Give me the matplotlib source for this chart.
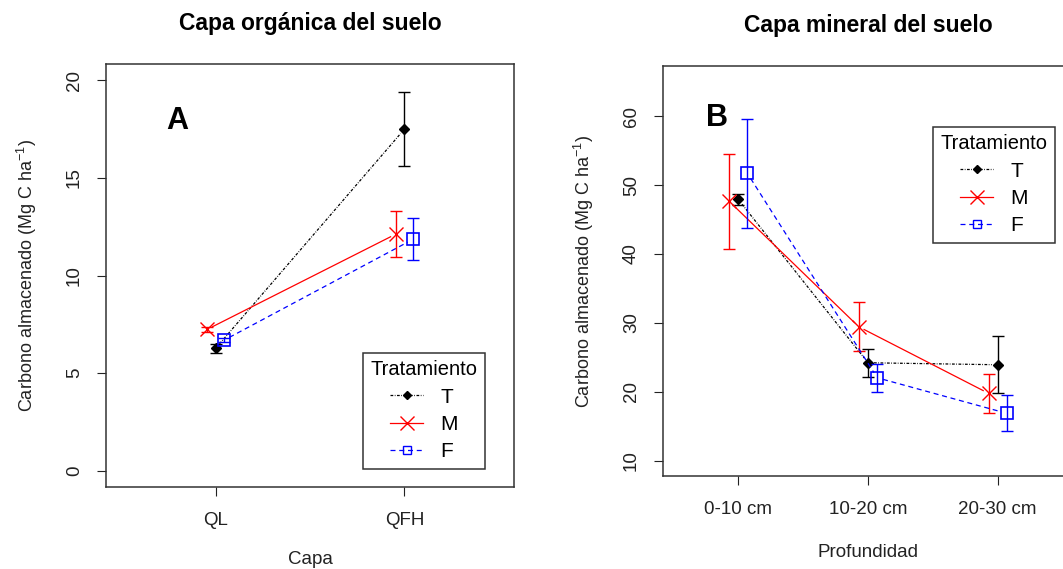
import numpy as np
import matplotlib
matplotlib.use("Agg")
import matplotlib.pyplot as plt

plt.rcParams['font.family'] = ['Liberation Sans', 'DejaVu Sans']
plt.rcParams['mathtext.fontset'] = 'custom'
plt.rcParams['mathtext.rm'] = 'Liberation Sans'
plt.rcParams['mathtext.it'] = 'Liberation Sans'

# treatments
trat = ['T', 'M', 'F']
colores = ['black', 'red', 'blue']
marcas = ['D', 'x', 's']

# panel A: capa organica
capas = ['QL', 'QFH']
A_T = [6.27, 17.49]
A_M = [7.24, 12.12]
A_F = [6.69, 11.85]
A_T_err = [0.23, 1.9]
A_M_err = [0.15, 1.17]
A_F_err = [0.1, 1.07]

# panel B: capa mineral
prof = ['0-10 cm', '10-20 cm', '20-30 cm']
B_T = [47.92, 24.22, 23.93]
B_M = [47.68, 29.44, 19.78]
B_F = [51.70, 22.04, 16.87]
B_T_err = [0.8, 2.0, 4.15]
B_M_err = [6.9, 3.55, 2.85]
B_F_err = [7.9, 2.0, 2.6]

W, H = 1063, 569
fig = plt.figure(figsize=(W/100, H/100), dpi=100)

def px_axes(l, t, r, b):
    return fig.add_axes([l/W, 1-b/H, (r-l)/W, (b-t)/H])

def linea_b(ax, x, y, **kw):
    # R type="b": segments with a gap round each point
    pts = ax.transData.transform(np.column_stack([x, y]))
    gap = 6.0
    inv = ax.transData.inverted()
    for i in range(len(pts)-1):
        p0, p1 = pts[i], pts[i+1]
        d = p1 - p0
        n = np.hypot(*d)
        if n < 2*gap:
            continue
        u = d/n
        q = inv.transform(np.array([p0 + u*gap, p1 - u*gap]))
        ax.plot(q[:, 0], q[:, 1], **kw)

def panel(ax, cats, series, errs, dodge, ylim, yticks, title, xlabel, xpad, letra, lpos, legpos):
    x = np.arange(1, len(cats)+1)
    ax.set_xlim(0.42, len(cats)+0.58)
    ax.set_ylim(*ylim)
    estilos = [(0, (2.2, 1.2, 0.6, 1.2)), '-', (0, (4, 3))]
    offs = [0.0, -dodge, dodge]
    handles = []
    for s, e, c, m, ls, off, lab in zip(series, errs, colores, marcas, estilos, offs, trat):
        xx = x + off
        linea_b(ax, xx, s, color=c, lw=0.9, ls=ls)
        ax.errorbar(xx, s, yerr=e, fmt='none', ecolor=c, elinewidth=1.0, capsize=4, capthick=1.0)
        if m == 's':
            ax.plot(xx, s, ls='none', marker=m, ms=8, mfc='none', mec=c, mew=1.2)
        elif m == 'x':
            ax.plot(xx, s, ls='none', marker=m, ms=10, mec=c, mew=1.0)
        else:
            ax.plot(xx, s, ls='none', marker=m, ms=5, mfc=c, mec=c)
        h, = ax.plot([], [], color=c, ls=ls, lw=0.9, marker=m,
                     ms=(6 if m == 's' else (10 if m == 'x' else 4.5)),
                     mfc=('none' if m == 's' else c), mec=c, mew=1.0)
        handles.append(h)
    ax.set_xticks(x)
    ax.set_xticklabels(cats)
    ax.set_yticks(yticks)
    ax.set_yticklabels([str(v) for v in yticks], rotation=90, va='center')
    ax.tick_params(axis='x', direction='out', length=6.5, width=0.8, pad=11.5, labelsize=13.5, colors='#222222')
    ax.tick_params(axis='y', direction='out', length=6.5, width=0.8, pad=10, labelsize=13.5, colors='#222222')
    for sp in ax.spines.values():
        sp.set_linewidth(1.1)
        sp.set_color('#333333')
    ax.set_xlabel(xlabel, fontsize=13.5, labelpad=xpad, color='#222222')
    ax.set_ylabel('Carbono almacenado (Mg C ha$^{-1}$)', fontsize=13, labelpad=19.5, color='#222222')
    ax.set_title(title, fontsize=16.5, fontweight='bold', pad=24.5)
    ax.text(lpos[0], lpos[1], letra, transform=ax.transAxes, fontsize=22, fontweight='bold',
            ha='center', va='center')
    leg = fig.legend(handles, trat, title='Tratamiento', loc='upper left',
                     bbox_to_anchor=(legpos[0]/W, 1-legpos[1]/H), frameon=True, fancybox=False,
                     edgecolor='#333333', framealpha=1, fontsize=15, title_fontsize=14.5,
                     handlelength=1.6, handletextpad=0.8, labelspacing=0.4, borderpad=0.35,
                     borderaxespad=0)
    leg.get_frame().set_linewidth(1.1)

axA = px_axes(106, 64, 514, 487)
panel(axA, capas, [A_T, A_M, A_F], [A_T_err, A_M_err, A_F_err], 0.045,
      (-0.82, 20.82), [0, 5, 10, 15, 20], 'Capa orgánica del suelo', 'Capa', 16, 'A',
      (0.174, 0.865), (363, 353))

axB = px_axes(663, 66, 1073, 476)
panel(axB, prof, [B_T, B_M, B_F], [B_T_err, B_M_err, B_F_err], 0.071,
      (7.78, 67.3), [10, 20, 30, 40, 50, 60], 'Capa mineral del suelo', 'Profundidad', 19, 'B',
      (0.132, 0.873), (933, 127))

fig.savefig('out.png', dpi=100)
